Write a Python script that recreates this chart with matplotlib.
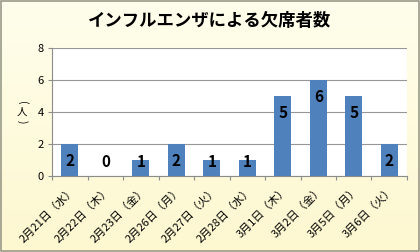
import matplotlib
matplotlib.use("Agg")
import matplotlib.pyplot as plt
import numpy as np

plt.rcParams["font.family"] = ["Noto Sans CJK JP", "DejaVu Sans"]

# data
dates = ["2月21日（水）", "2月22日（木）", "2月23日（金）", "2月26日（月）", "2月27日（火）",
         "2月28日（水）", "3月1日（木）", "3月2日（金）", "3月5日（月）", "3月6日（火）"]
absent = [2, 0, 1, 2, 1, 1, 5, 6, 5, 2]
yticks = [0, 2, 4, 6, 8]

fig = plt.figure(figsize=(4.2, 2.52), dpi=100)

# pale yellow gradient background
bg = fig.add_axes([0, 0, 1, 1], zorder=-10)
grad = np.linspace(0, 1, 256).reshape(-1, 1)
bg.imshow(grad, aspect="auto", extent=[0, 1, 0, 1],
          cmap=matplotlib.colors.LinearSegmentedColormap.from_list("bg", ["#FFFEEC", "#FDF8D0"]))
bg.add_patch(plt.Rectangle((0.002, 0.004), 0.995, 0.992, fill=False,
                           edgecolor="#9A9A8A", linewidth=1.2, transform=bg.transAxes))
bg.set_xlim(0, 1)
bg.set_ylim(0, 1)
bg.axis("off")

ax = fig.add_axes([0.124, 0.302, 0.845, 0.508])
ax.set_facecolor("white")
x = np.arange(len(dates))
ax.bar(x, absent, width=0.48, color="#4F81BD", zorder=3)

for xi, v in zip(x, absent):
    ax.text(xi, max(v - 1.05, 0.85), str(v), ha="center", va="center",
            fontsize=11, fontweight="bold", color="black", zorder=4)

ax.set_xlim(-0.5, len(dates) - 0.5)
ax.set_ylim(0, 8)
ax.set_yticks(yticks)
ax.yaxis.grid(True, color="#969696", linewidth=0.8)
ax.set_axisbelow(True)
ax.tick_params(axis="y", labelsize=8, length=3, color="#8C8C8C", pad=3)
ax.set_xticks(np.arange(len(dates) + 1) - 0.5, minor=False)
ax.set_xticklabels([])
ax.tick_params(axis="x", length=3, color="#8C8C8C")
ax.set_xticks(x, minor=True)
ax.set_xticklabels(dates, minor=True, rotation=45, ha="right", va="top",
                   rotation_mode="anchor", fontsize=8)
ax.tick_params(axis="x", which="minor", length=0, pad=6)
for s in ["top", "right"]:
    ax.spines[s].set_visible(False)
for s in ["left", "bottom"]:
    ax.spines[s].set_color("#8C8C8C")

# vertical axis title (人), written top to bottom
fig.text(0.053, 0.594, "(", ha="center", va="center", fontsize=7.5, rotation=-90)
fig.text(0.053, 0.555, "人", ha="center", va="center", fontsize=7.5)
fig.text(0.053, 0.516, ")", ha="center", va="center", fontsize=7.5, rotation=-90)

fig.text(0.5, 0.915, "インフルエンザによる欠席者数", ha="center", va="center",
         fontsize=12.5, fontweight="bold")

fig.savefig("out.png", dpi=100)
